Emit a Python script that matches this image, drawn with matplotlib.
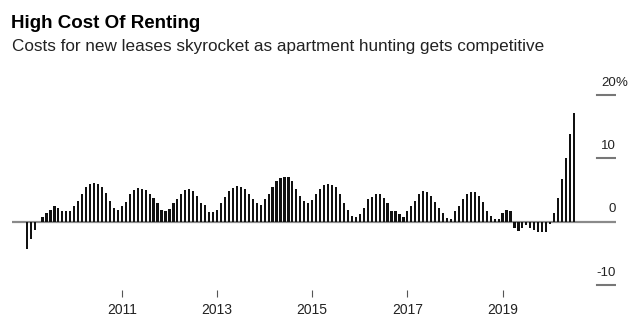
import numpy as np
import matplotlib
matplotlib.use("Agg")
import matplotlib.pyplot as plt

# ------------------------------------------------------------
# Data: monthly year-over-year change in new-lease rents (%)
# ------------------------------------------------------------
start_year = 2009
rent_change = [
    -4.4, -2.7, -1.4, 0.0, 0.8, 1.3, 1.9, 2.4, 2.2, 1.7, 1.7, 1.6,
    2.4, 3.3, 4.4, 5.4, 5.9, 6.1, 5.9, 5.4, 4.5, 3.3, 2.2, 1.8,
    2.5, 3.1, 4.4, 5.0, 5.3, 5.2, 5.0, 4.4, 3.8, 2.9, 1.9, 1.6,
    2.0, 2.9, 3.5, 4.4, 5.0, 5.1, 4.9, 4.1, 2.9, 2.6, 1.5, 1.5,
    1.9, 2.9, 3.9, 4.9, 5.3, 5.7, 5.5, 5.1, 4.3, 3.5, 3.0, 2.7,
    3.6, 4.3, 5.5, 6.4, 6.9, 7.1, 7.1, 6.4, 5.2, 4.0, 3.3, 3.0,
    3.4, 4.3, 5.2, 5.8, 5.9, 5.8, 5.4, 4.3, 2.9, 1.9, 0.9, 0.7,
    1.2, 2.1, 3.5, 3.9, 4.4, 4.4, 3.8, 3.0, 1.7, 1.6, 1.2, 0.7,
    1.6, 2.5, 3.3, 4.3, 4.9, 4.6, 4.1, 3.1, 2.1, 1.4, 0.6, 0.4,
    1.6, 2.5, 3.6, 4.4, 4.7, 4.7, 4.0, 3.1, 1.7, 0.9, 0.4, 0.4,
    1.3, 1.9, 1.7, -1.05, -1.5, -1.0, -0.5, -1.05, -1.3, -1.6, -1.7, -1.7,
    -0.4, 1.4, 3.8, 6.7, 10.1, 13.9, 17.1,
]
tick_years = [2011, 2013, 2015, 2017, 2019]
y_ticks = [20, 10, 0, -10]

title = "High Cost Of Renting"
subtitle = "Costs for new leases skyrocket as apartment hunting gets competitive"

# ------------------------------------------------------------
# Figure
# ------------------------------------------------------------
W, H = 639, 319
fig = plt.figure(figsize=(W / 100, H / 100), dpi=100)
plt.rcParams["font.family"] = ["Liberation Sans", "DejaVu Sans"]

ax = fig.add_axes([12 / W, 1 - 290 / H, (616 - 12) / W, (290 - 88) / H])

x = np.arange(len(rent_change))
ax.bar(x, rent_change, width=0.55, color="#111111", zorder=3)

ax.set_xlim(-3.7, 148.6)
ax.set_ylim(-10.8, 21.1)

# zero line and short right-hand guide lines
ax.axhline(0, color="#8a8a8a", lw=1.6, zorder=2)
for v in y_ticks:
    if v != 0:
        ax.axhline(v, xmin=0.968, xmax=1.0, color="#777777", lw=1.5)
    ax.text(1.0, v + 1.0, str(v), transform=ax.get_yaxis_transform(),
            ha="right", va="bottom", fontsize=9.5, color="#222222")
ax.text(1.0, y_ticks[0] + 1.0, "%", transform=ax.get_yaxis_transform(),
        ha="left", va="bottom", fontsize=9.5, color="#222222")

# x axis: year ticks
ax.set_xticks([(yr - start_year) * 12 for yr in tick_years])
ax.set_xticklabels([str(yr) for yr in tick_years])
ax.tick_params(axis="x", length=5, width=0.8, color="#555555",
               labelsize=10, labelcolor="#222222", pad=4)
ax.set_yticks([])
for s in ax.spines.values():
    s.set_visible(False)

fig.text(11 / W, 1 - 28 / H, title, fontsize=13.5, fontweight="bold",
         va="baseline", ha="left", color="#000000")
fig.text(12 / W, 1 - 51 / H, subtitle, fontsize=12.3,
         va="baseline", ha="left", color="#222222")

fig.savefig("out.png", dpi=100)
